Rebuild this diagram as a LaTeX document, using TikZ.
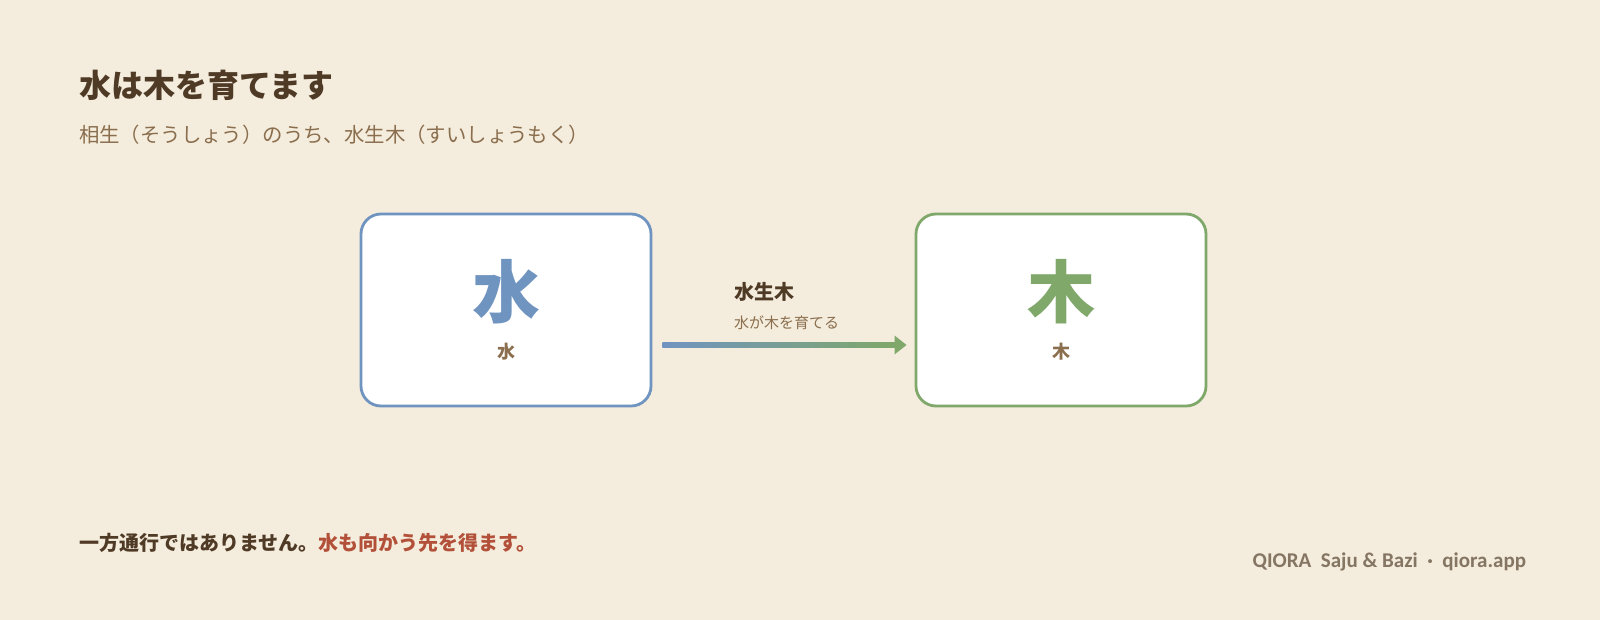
\documentclass[tikz,border=0pt]{standalone}
\usepackage{fontspec}
\setmainfont{Noto Sans CJK JP}
\newfontfamily\footfont{Carlito}
\usetikzlibrary{positioning,arrows.meta}
\definecolor{paper}{HTML}{F4ECDC}
\definecolor{ink}{HTML}{4F3A26}
\definecolor{subink}{HTML}{8A6E4E}
\definecolor{water}{HTML}{7094C0}
\definecolor{wood}{HTML}{7FA86A}
\definecolor{accent}{HTML}{B3503A}
\definecolor{foot}{HTML}{857563}
\begin{document}
\begin{tikzpicture}[x=0.5bp, y=-0.5bp,
  element/.style = {rectangle, rounded corners=10bp, fill=white, line width=1.4bp,
                    minimum width=145bp, minimum height=96bp},
  glyph/.style = {font=\fontsize{34bp}{36bp}\selectfont\bfseries},
  caption/.style = {font=\fontsize{9bp}{10bp}\selectfont\bfseries, text=subink}]
  % Background.
  \fill [paper] (0, 0) rectangle (1600, 620);

  % Heading.
  \node at (72, 85) [anchor=west, text=ink, font=\fontsize{16bp}{18bp}\selectfont\bfseries, name=Title] {水は木を育てます};
  \node at (72, 135) [anchor=west, text=subink, font=\fontsize{10.2bp}{12bp}\selectfont, name=Subtitle] {相生（そうしょう）のうち、水生木（すいしょうもく）};

  % Elements.
  \node at (506, 310) [element, draw=water, name=Water] {};
  \node at (1061, 310) [element, draw=wood, name=Wood] {};
  \node at (506, 292) [glyph, text=water, name=WaterGlyph] {水};
  \node at (506, 352) [caption, name=WaterName] {水};
  \node at (1061, 292) [glyph, text=wood, name=WoodGlyph] {木};
  \node at (1061, 352) [caption, name=WoodName] {木};

  % Generating arrow.
  \coordinate (flowstart) at ([xshift=5bp, yshift=-17.5bp]Water.east);
  \coordinate (flowend) at ([xshift=-4bp, yshift=-17.5bp]Wood.west);
  \shade [left color=water, right color=wood] ([yshift=-1.2bp]flowstart) rectangle ([xshift=-5bp, yshift=1.2bp]flowend);
  \draw [wood, line width=2.4bp, -{Triangle[length=6bp, width=9bp]}] ([xshift=-6bp]flowend) -- (flowend);
  \node at (727, 292) [anchor=west, text=ink, font=\fontsize{10bp}{12bp}\selectfont\bfseries, name=FlowLabel] {水生木};
  \node at (727, 323) [anchor=west, text=subink, font=\fontsize{7.5bp}{9bp}\selectfont, name=FlowNote] {水が木を育てる};

  % Footer.
  \node at (72, 543) [anchor=west, text=ink, font=\fontsize{10bp}{12bp}\selectfont\bfseries, name=Note]
    {一方通行ではありません。\textcolor{accent}{水も向かう先を得ます。}};
  \node at (1533, 562) [anchor=east, text=foot, font=\footfont\fontsize{10.5bp}{12bp}\selectfont\bfseries, name=Brand]
    {QIORA\ \ Saju \& Bazi \ ·\ \ qiora.app};
\end{tikzpicture}
\end{document}
